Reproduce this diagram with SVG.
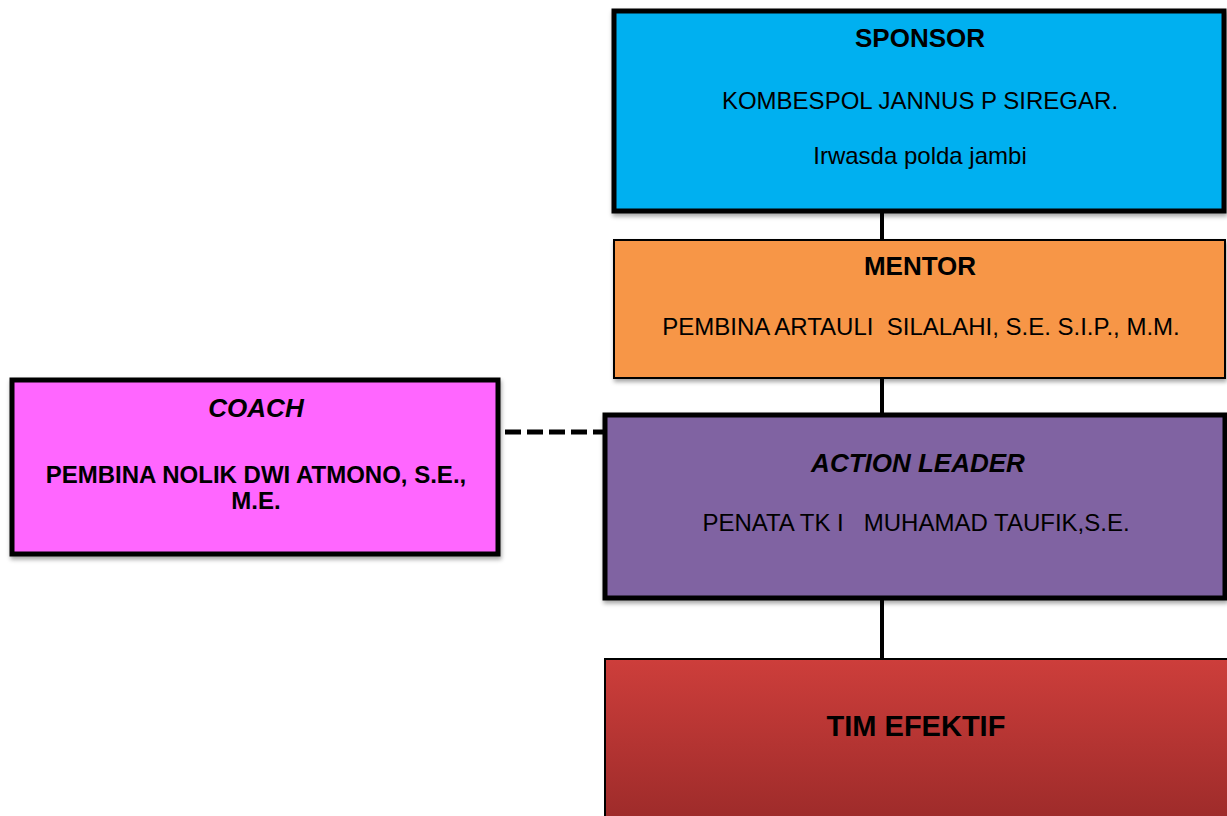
<svg xmlns="http://www.w3.org/2000/svg" width="1227" height="816" viewBox="0 0 1227 816" xml:space="preserve">
  <style>
    text { font-family: "Liberation Sans", Arial, sans-serif; fill: #000; text-anchor: middle; white-space: pre; }
    .head { font-size: 26px; font-weight: bold; }
    .headi { font-size: 26px; font-weight: bold; font-style: italic; }
    .body { font-size: 24px; }
    .bodyb { font-size: 24px; font-weight: bold; }
    .big { font-size: 29px; font-weight: bold; }
    .thick { stroke: #000; stroke-width: 5; }
    .thin { stroke: #000; stroke-width: 2; }
    .link { stroke: #000; stroke-width: 4; fill: none; }
    .dash { stroke: #000; stroke-width: 5; stroke-dasharray: 16 6; fill: none; }
  </style>
  <defs>
    <linearGradient id="redFill" x1="0" y1="0" x2="0" y2="1">
      <stop offset="0" stop-color="#cd3e3b"/>
      <stop offset="1" stop-color="#9b2a29"/>
    </linearGradient>
    <filter id="shadow" x="-5%" y="-5%" width="110%" height="120%">
      <feDropShadow dx="1" dy="3" stdDeviation="2" flood-color="#000" flood-opacity="0.35"/>
    </filter>
  </defs>

  <rect width="1227" height="816" fill="#fff"/>

  <!-- connectors -->
  <g id="connectors">
    <line class="link" x1="882" y1="212" x2="882" y2="240"/>
    <line class="link" x1="882" y1="378" x2="882" y2="414"/>
    <line class="link" x1="882" y1="599" x2="882" y2="659"/>
    <line class="dash" x1="505" y1="432" x2="604" y2="432"/>
  </g>

  <!-- sponsor -->
  <g id="sponsor">
    <rect class="thick" x="614" y="11" width="610" height="200" fill="#00b0f0" filter="url(#shadow)"/>
    <text class="head" x="920" y="47">SPONSOR</text>
    <text class="body" x="920" y="109">KOMBESPOL JANNUS P SIREGAR.</text>
    <text class="body" x="920" y="164">Irwasda polda jambi</text>
  </g>

  <!-- mentor -->
  <g id="mentor">
    <rect class="thin" x="614" y="240" width="611" height="138" fill="#f79646" filter="url(#shadow)"/>
    <text class="head" x="920" y="275">MENTOR</text>
    <text class="body" x="921" y="335">PEMBINA ARTAULI  SILALAHI, S.E. S.I.P., M.M.</text>
  </g>

  <!-- coach -->
  <g id="coach">
    <rect class="thick" x="12" y="380" width="486" height="174" fill="#ff66ff" filter="url(#shadow)"/>
    <text class="headi" x="256" y="417">COACH</text>
    <text class="bodyb" x="256" y="483">PEMBINA NOLIK DWI ATMONO, S.E.,</text>
    <text class="bodyb" x="256" y="509">M.E.</text>
  </g>

  <!-- action leader -->
  <g id="action-leader">
    <rect class="thick" x="605" y="415" width="620" height="183" fill="#8064a2" filter="url(#shadow)"/>
    <text class="headi" x="918" y="472">ACTION LEADER</text>
    <text class="body" x="916" y="531">PENATA TK I   MUHAMAD TAUFIK,S.E.</text>
  </g>

  <!-- effective team -->
  <g id="tim-efektif">
    <rect class="thin" x="605" y="659" width="640" height="170" fill="url(#redFill)"/>
    <text class="big" x="916" y="736">TIM EFEKTIF</text>
  </g>
</svg>
